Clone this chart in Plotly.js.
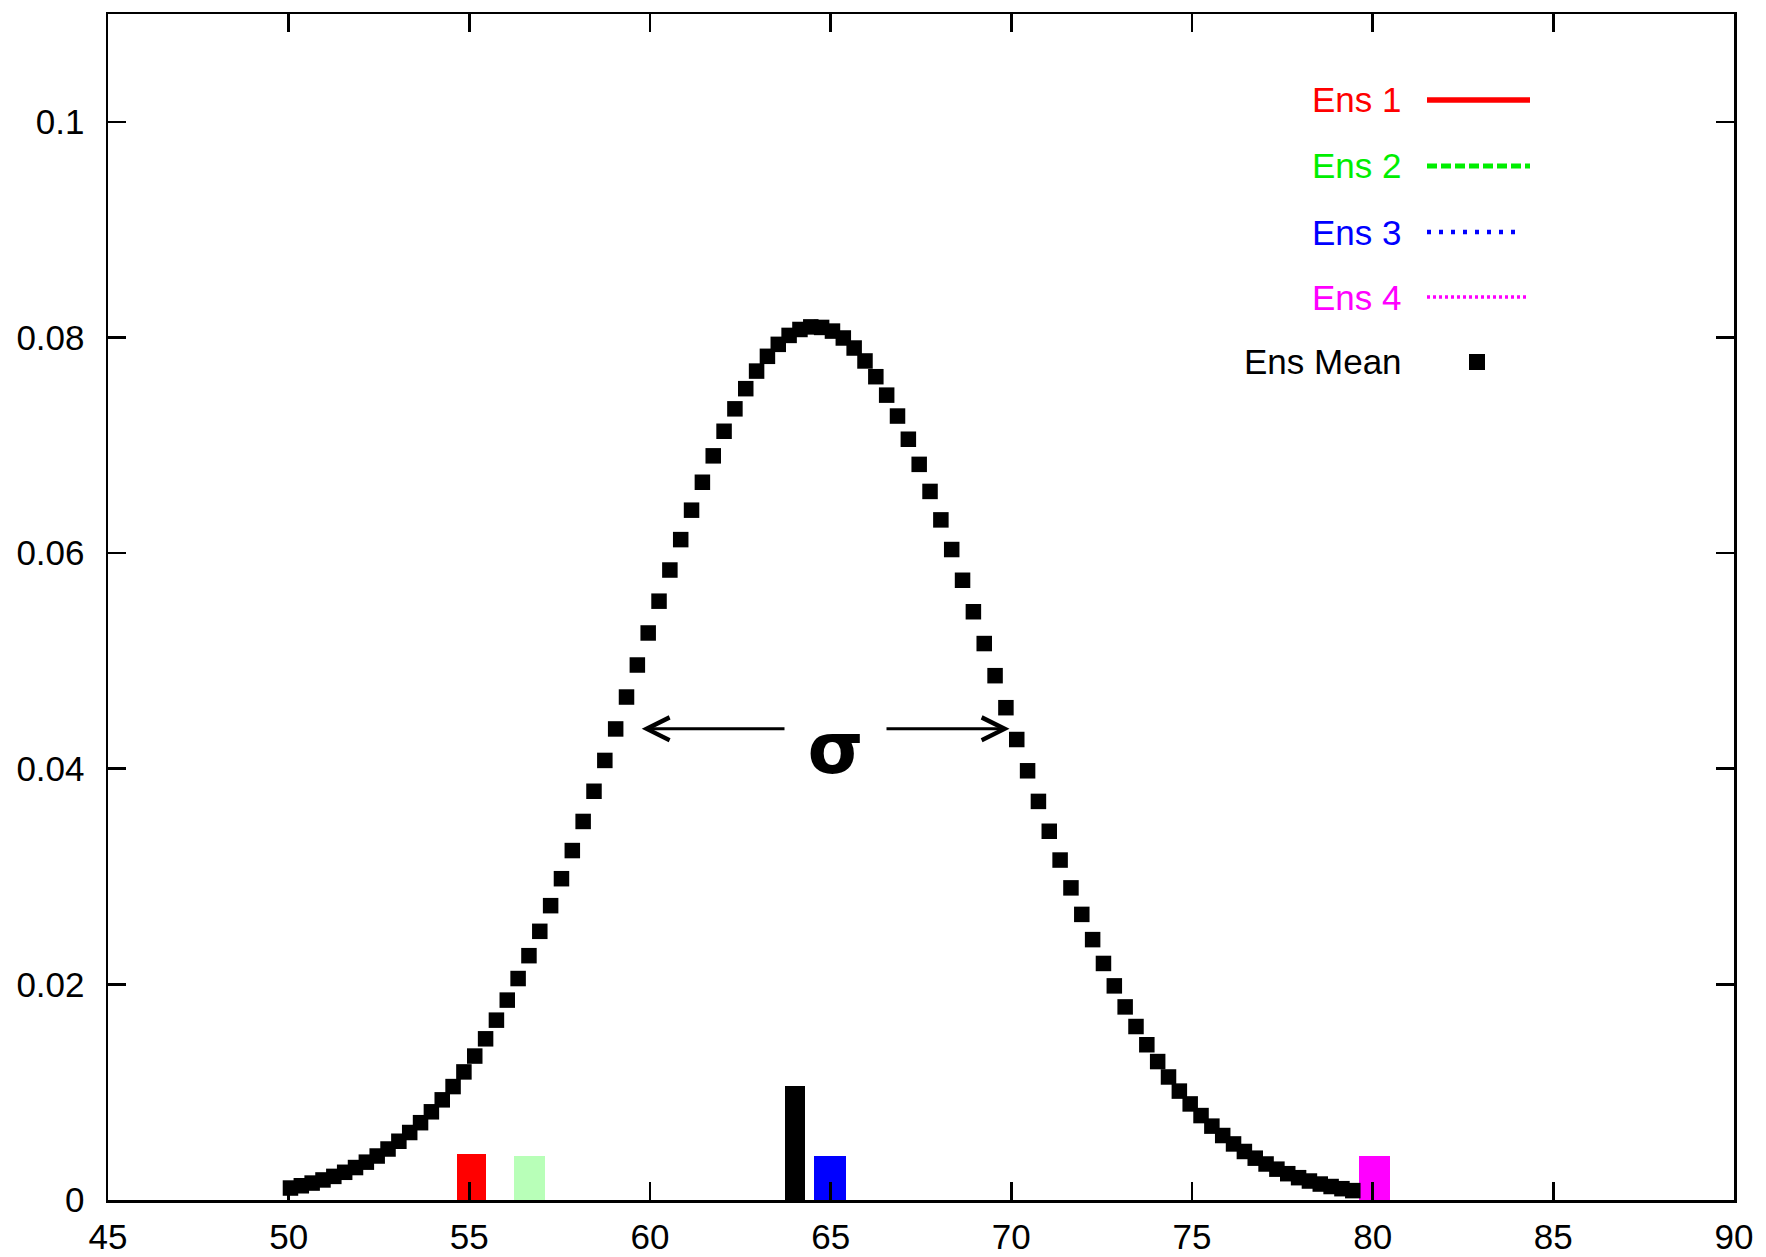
<!DOCTYPE html>
<html>
<head>
<meta charset="utf-8">
<script src="https://cdn.plot.ly/plotly-3.0.1.min.js"></script>
<style>html,body{margin:0;padding:0;background:#fff;} #chart{width:1766px;height:1257px;}</style>
</head>
<body>
<div id="chart"></div>
<script>
// Ensemble-mean PDF samples
var meanX = [
50.05,50.35,50.65,50.95,51.25,51.55,51.85,52.15,52.45,52.75,
53.05,53.35,53.65,53.95,54.25,54.55,54.85,55.15,55.45,55.75,
56.05,56.35,56.65,56.95,57.25,57.55,57.85,58.15,58.45,58.75,
59.05,59.35,59.65,59.95,60.25,60.55,60.85,61.15,61.45,61.75,
62.05,62.35,62.65,62.95,63.25,63.55,63.85,64.15,64.45,64.75,
65.05,65.35,65.65,65.95,66.25,66.55,66.85,67.15,67.45,67.75,
68.05,68.35,68.65,68.95,69.25,69.55,69.85,70.15,70.45,70.75,
71.05,71.35,71.65,71.95,72.25,72.55,72.85,73.15,73.45,73.75,
74.05,74.35,74.65,74.95,75.25,75.55,75.85,76.15,76.45,76.75,
77.05,77.35,77.65,77.95,78.25,78.55,78.85,79.15,79.45
];
var meanY = [
0.00111,0.00132,0.00157,0.00186,0.00219,0.00257,0.00301,0.00351,0.00408,0.00473,
0.00545,0.00626,0.00717,0.00818,0.00929,0.01052,0.01188,0.01335,0.01495,0.01668,
0.01854,0.02054,0.02266,0.02492,0.02730,0.02980,0.03241,0.03511,0.03791,0.04077,
0.04369,0.04665,0.04962,0.05259,0.05554,0.05843,0.06125,0.06398,0.06657,0.06902,
0.07130,0.07338,0.07525,0.07688,0.07825,0.07936,0.08019,0.08074,0.08098,0.08093,
0.08059,0.07995,0.07902,0.07782,0.07636,0.07465,0.07271,0.07056,0.06823,0.06572,
0.06308,0.06033,0.05748,0.05456,0.05161,0.04863,0.04566,0.04271,0.03981,0.03697,
0.03420,0.03153,0.02895,0.02649,0.02415,0.02194,0.01986,0.01791,0.01609,0.01440,
0.01284,0.01141,0.01010,0.00891,0.00783,0.00685,0.00598,0.00520,0.00450,0.00388,
0.00334,0.00286,0.00244,0.00207,0.00176,0.00148,0.00125,0.00105,0.00087
];

// Ensemble member markers along the bottom
var memberNames = ["Ens 1", "Ens 2", "Ens Mean", "Ens 3", "Ens 4"];
var memberX = [55.06, 56.66, 64.02, 64.98, 80.06];
var memberY = [0.0043, 0.0041, 0.01054, 0.0041, 0.0041];

// Legend labels
var legendNames = ["Ens 1", "Ens 2", "Ens 3", "Ens 4", "Ens Mean"];

// Sigma arrow ends and label
var sigmaLeft = 59.73, sigmaRight = 69.95, sigmaLevel = 0.0437;
var sigmaLabel = "σ";

// ----- styling -----
var W = 1766, H = 1257, ML = 108, MR = 32, MT = 14, MB = 57;
var PW = W - ML - MR, PH = H - MT - MB;
function px(x) { return (x - ML) / PW; }
function py(y) { return (H - MB - y) / PH; }

var memberColors = ["#ff0000", "#b8ffb8", "#000000", "#0000ff", "#ff00ff"];
var memberWidths = [0.79, 0.86, 0.56, 0.91, 0.85];
var legendColors = ["#ff0000", "#00ee00", "#0000ff", "#ff00ff", "#000000"];
var legendDash = ["solid", "10px,4px", "4px,8px", "3px,3px", null];
var legendLineW = [5.5, 5, 4.5, 3.5, 0];
var legendX1 = [1530, 1530, 1522, 1527, 0];
var legendRowY = [100, 166, 232, 297, 362];
var FONT = "Liberation Sans, Arial, Helvetica, sans-serif";

var traces = [];
traces.push({
  type: "bar", x: memberX, y: memberY, width: memberWidths,
  marker: {color: memberColors, line: {width: 0}}, showlegend: false,
  hovertext: memberNames, hoverinfo: "text", textposition: "none"
});
traces.push({
  type: "scatter", mode: "markers", x: meanX, y: meanY, name: "Ens Mean",
  marker: {symbol: "square", size: 15.5, color: "#000000", line: {width: 0}}, showlegend: false
});

var annotations = [];
var shapes = [];
for (var j = 0; j < legendNames.length; j++) {
  annotations.push({
    xref: "paper", yref: "paper", x: px(1404), y: py(legendRowY[j]),
    xanchor: "right", yanchor: "middle", showarrow: false, text: legendNames[j],
    font: {family: FONT, size: 35, color: legendColors[j]}
  });
  if (legendDash[j]) {
    shapes.push({type: "line", xref: "paper", yref: "paper",
      x0: px(1427), x1: px(legendX1[j]), y0: py(legendRowY[j]), y1: py(legendRowY[j]),
      line: {color: legendColors[j], width: legendLineW[j], dash: legendDash[j]}});
  } else {
    shapes.push({type: "rect", xref: "paper", yref: "paper",
      x0: px(1469), x1: px(1485), y0: py(legendRowY[j] - 8), y1: py(legendRowY[j] + 8),
      fillcolor: "#000000", line: {width: 0}});
  }
}
// sigma arrow
annotations.push({
  x: sigmaRight, y: sigmaLevel, ax: sigmaLeft, ay: sigmaLevel, axref: "x", ayref: "y",
  xref: "x", yref: "y", text: "", showarrow: true, arrowside: "end+start",
  arrowhead: 5, startarrowhead: 5, arrowsize: 1.5, startarrowsize: 1.5, arrowwidth: 3, arrowcolor: "#000"
});
annotations.push({
  x: 65.12, y: 0.0419, xref: "x", yref: "y",
  text: "<b>" + sigmaLabel + "</b>", showarrow: false, bgcolor: "#ffffff", width: 99, height: 90,
  font: {family: "DejaVu Sans, sans-serif", size: 72, color: "#000"}, valign: "middle"
});

var axisCommon = {
  showline: true, linecolor: "#000", linewidth: 2.5, mirror: "allticks",
  ticks: "inside", ticklen: 18, tickwidth: 2.5, tickcolor: "#000",
  showgrid: false, zeroline: false,
  tickfont: {family: FONT, size: 35, color: "#000"}
};

var layout = {
  width: W, height: H, margin: {l: ML, r: MR, t: MT, b: MB},
  paper_bgcolor: "#fff", plot_bgcolor: "#fff", showlegend: false, bargap: 0,
  xaxis: Object.assign({}, axisCommon, {range: [45, 90], dtick: 5, tick0: 45, ticklabelstandoff: 4}),
  yaxis: Object.assign({}, axisCommon, {range: [0, 0.11], dtick: 0.02, tick0: 0, ticklabelstandoff: 14}),
  annotations: annotations, shapes: shapes
};

Plotly.newPlot("chart", traces, layout, {displayModeBar: false, staticPlot: true});
</script>
</body>
</html>
